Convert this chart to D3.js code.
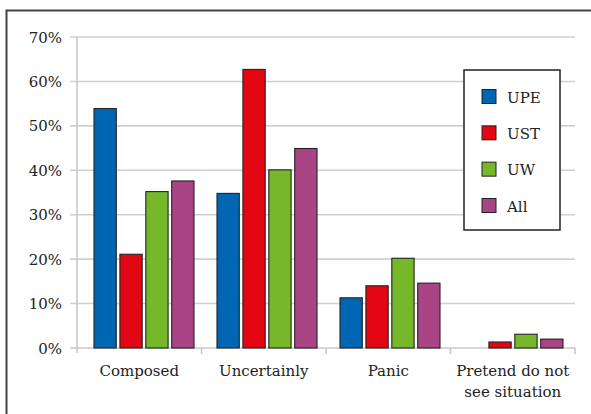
<!DOCTYPE html>
<html><head><meta charset="utf-8">
<script src="https://cdn.jsdelivr.net/npm/d3@7"></script>
<style>html,body{margin:0;padding:0;background:#fff;}svg{display:block;}</style>
</head><body><svg id="c" width="591" height="414"></svg>
<script>
const categories = [["Composed"], ["Uncertainly"], ["Panic"], ["Pretend do not", "see situation"]];
const seriesNames = ["UPE", "UST", "UW", "All"];
const seriesColors = ["#0066b3", "#e30613", "#76b82a", "#a94585"];
const UPE = [53.9, 34.8, 11.3, 0];
const UST = [21.1, 62.7, 14.0, 1.35];
const UW  = [35.2, 40.1, 20.2, 3.1];
const All = [37.6, 44.9, 14.6, 2.0];
const yTicks = [0, 10, 20, 30, 40, 50, 60, 70];
const seriesValues = [UPE, UST, UW, All];

const svg = d3.select("#c");
const font = "DejaVu Serif";

// outer frame
svg.append("rect").attr("x", 6.5).attr("y", 10.5).attr("width", 600).attr("height", 420)
  .attr("fill", "none").attr("stroke", "#444").attr("stroke-width", 2);

const y = d3.scaleLinear().domain([0, 70]).range([348, 37]);
const xAxisScale = d3.scaleBand().domain(d3.range(categories.length)).range([77, 575]);
const xGroup = d3.scaleBand().domain(d3.range(categories.length)).range([82.5, 574.5]);
const xInner = d3.scaleBand().domain(d3.range(seriesNames.length)).range([0, 100]).paddingInner(0.14);

// gridlines
svg.append("g").selectAll("line").data(yTicks.filter(d => d > 0)).join("line")
  .attr("x1", 70).attr("x2", 575).attr("y1", d => y(d)).attr("y2", d => y(d))
  .attr("stroke", "#d0d0d0").attr("stroke-width", 1.6);

// y axis line
svg.append("line").attr("x1", 77).attr("x2", 77).attr("y1", y(70)).attr("y2", y(0) + 5)
  .attr("stroke", "#c8c8c8").attr("stroke-width", 1.6);
// zero tick & x axis
svg.append("line").attr("x1", 70).attr("x2", 575.5).attr("y1", y(0)).attr("y2", y(0))
  .attr("stroke", "#c8c8c8").attr("stroke-width", 1.6);
// category ticks
const bounds = d3.range(categories.length).map(i => xAxisScale(i) + xAxisScale.bandwidth()).concat([]);
svg.append("g").selectAll("line").data(bounds).join("line")
  .attr("x1", d => d).attr("x2", d => d).attr("y1", y(0)).attr("y2", y(0) + 6)
  .attr("stroke", "#c8c8c8").attr("stroke-width", 1.6);

// y labels
svg.append("g").selectAll("text").data(yTicks).join("text")
  .attr("x", 62).attr("y", d => y(d) + 5.5).attr("text-anchor", "end")
  .attr("font-family", font).attr("font-size", 15).attr("fill", "#222")
  .text(d => d + "%");

// bars
const bars = [];
seriesValues.forEach((vals, s) => vals.forEach((v, c) => { if (v > 0) bars.push({s, c, v}); }));
const gx = c => xGroup(c) + (xGroup.bandwidth() - 100) / 2;
svg.append("g").selectAll("rect").data(bars).join("rect")
  .attr("x", d => gx(d.c) + xInner(d.s)).attr("width", xInner.bandwidth())
  .attr("y", d => y(d.v)).attr("height", d => y(0) - y(d.v))
  .attr("fill", d => seriesColors[d.s]).attr("stroke", "#222").attr("stroke-width", 1.1);

// x labels
const xl = svg.append("g").selectAll("text").data(categories).join("text")
  .attr("text-anchor", "middle").attr("font-family", font).attr("font-size", 15).attr("fill", "#222");
xl.each(function(lines, i) {
  const cx = xAxisScale(i) + xAxisScale.bandwidth() / 2;
  d3.select(this).selectAll("tspan").data(lines).join("tspan")
    .attr("x", cx).attr("y", (d, j) => 376 + j * 21).text(d => d);
});

// legend
const lg = svg.append("g");
lg.append("rect").attr("x", 464).attr("y", 70).attr("width", 96).attr("height", 160)
  .attr("fill", "#fff").attr("stroke", "#222").attr("stroke-width", 1.5);
const ly = d3.scalePoint().domain(d3.range(seriesNames.length)).range([96.5, 205.5]);
seriesNames.forEach((n, i) => {
  lg.append("rect").attr("x", 482).attr("y", ly(i) - 7).attr("width", 14).attr("height", 14)
    .attr("fill", seriesColors[i]).attr("stroke", "#222").attr("stroke-width", 1);
  lg.append("text").attr("x", 507).attr("y", ly(i) + 6).attr("font-family", font)
    .attr("font-size", 15).attr("fill", "#222").text(n);
});
</script></body></html>
